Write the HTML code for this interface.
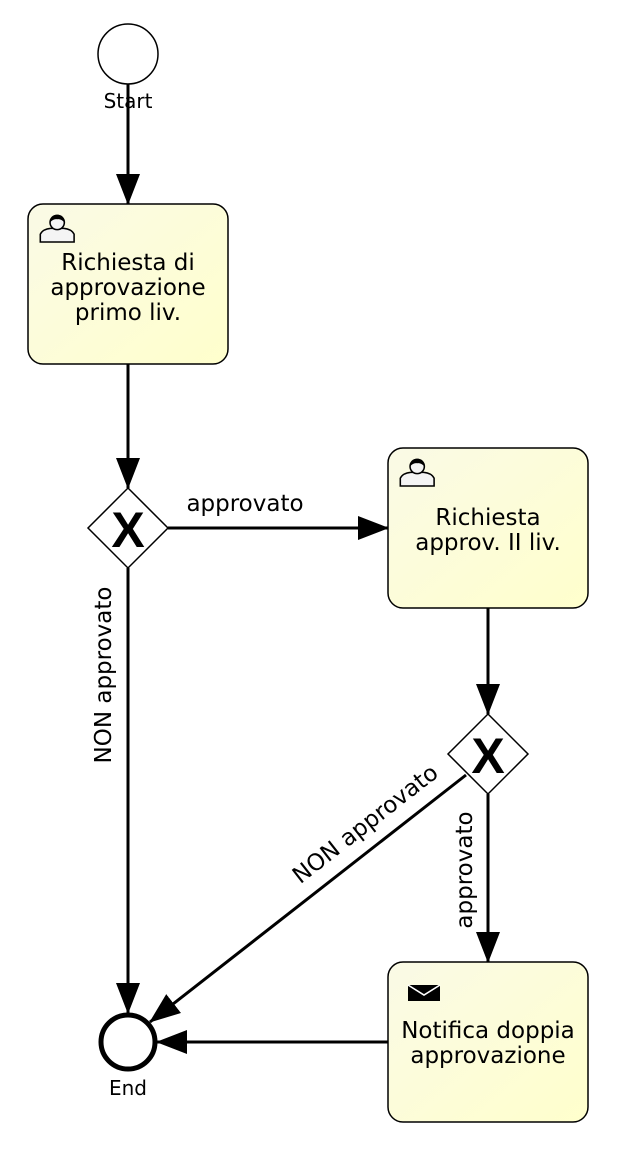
<!DOCTYPE html>
<html><head><meta charset="utf-8"><style>
html,body{margin:0;padding:0;background:#fff;width:640px;height:1170px;overflow:hidden}
text{font-family:"DejaVu Sans","Liberation Sans",sans-serif;fill:#000}
</style></head><body>
<svg width="640" height="1170" viewBox="0 0 640 1170" xmlns="http://www.w3.org/2000/svg">
<defs>
<linearGradient id="g" x1="0" y1="0" x2="1" y2="1">
<stop offset="0" stop-color="#fafae6"/><stop offset="1" stop-color="#ffffcc"/>
</linearGradient>
<marker id="a" markerWidth="32" markerHeight="24" refX="30" refY="12" orient="auto" markerUnits="userSpaceOnUse">
<path d="M0,0 L31,12 L0,24 z" fill="#000"/>
</marker>
<g id="user">
<path d="M1,20 L1,14 Q3,10 9,9.5 L19,9.5 Q25,10 27,14 L27,20 Z" fill="#f4f4f4" stroke="#000" stroke-width="1.2"/>
<circle cx="14" cy="5" r="5.5" fill="#f4f4f4" stroke="#000" stroke-width="1.2"/>
<path d="M8.5,5 Q8.5,-1 14,-1 Q19.5,-1 19.5,5 Q17,2 14,2.5 Q11,2 8.5,5 Z" fill="#000"/>
</g>
</defs>

<g stroke="#000" stroke-width="3" fill="none">
<line x1="128" y1="84" x2="128" y2="204" marker-end="url(#a)"/>
<line x1="128" y1="364" x2="128" y2="488" marker-end="url(#a)"/>
<line x1="168" y1="528" x2="388" y2="528" marker-end="url(#a)"/>
<line x1="488" y1="608" x2="488" y2="714" marker-end="url(#a)"/>
<line x1="488" y1="794" x2="488" y2="962" marker-end="url(#a)"/>
<line x1="128" y1="568" x2="128" y2="1013" marker-end="url(#a)"/>
<line x1="466" y1="775" x2="150" y2="1022" marker-end="url(#a)"/>
<line x1="388" y1="1042" x2="157" y2="1042" marker-end="url(#a)"/>
</g>

<circle cx="128" cy="54" r="30" fill="#fff" stroke="#000" stroke-width="1.5"/>
<text x="128" y="108" style="font-size:20px" text-anchor="middle">Start</text>

<circle cx="128" cy="1042" r="27" fill="#fff" stroke="#000" stroke-width="5"/>
<text x="128" y="1095" style="font-size:20px" text-anchor="middle">End</text>

<rect x="28" y="204" width="200" height="160" rx="15" fill="url(#g)" stroke="#000" stroke-width="1.5"/>
<use href="#user" transform="translate(39,216) scale(1.3)"/>
<text style="font-size:23px" text-anchor="middle"><tspan x="128" y="270">Richiesta di</tspan><tspan x="128" y="295">approvazione</tspan><tspan x="128" y="320">primo liv.</tspan></text>

<rect x="388" y="448" width="200" height="160" rx="15" fill="url(#g)" stroke="#000" stroke-width="1.5"/>
<use href="#user" transform="translate(399,460) scale(1.3)"/>
<text style="font-size:23px" text-anchor="middle"><tspan x="488" y="525">Richiesta</tspan><tspan x="488" y="550">approv. II liv.</tspan></text>

<rect x="388" y="962" width="200" height="160" rx="15" fill="url(#g)" stroke="#000" stroke-width="1.5"/>
<path d="M408,985 L440,985 L440,1001 L408,1001 Z" fill="#000"/>
<path d="M408,985 L424,995 L440,985" fill="none" stroke="#fff" stroke-width="1.6"/>
<text style="font-size:23px" text-anchor="middle"><tspan x="488" y="1038">Notifica doppia</tspan><tspan x="488" y="1063">approvazione</tspan></text>

<path d="M128,488 L168,528 L128,568 L88,528 Z" fill="#fff" stroke="#000" stroke-width="1.5"/>
<text x="128" y="547" style="font-size:50px;font-family:'Liberation Sans',sans-serif" font-weight="bold" text-anchor="middle">X</text>
<path d="M488,714 L528,754 L488,794 L448,754 Z" fill="#fff" stroke="#000" stroke-width="1.5"/>
<text x="488" y="773" style="font-size:50px;font-family:'Liberation Sans',sans-serif" font-weight="bold" text-anchor="middle">X</text>

<text x="245" y="511" style="font-size:23px" text-anchor="middle">approvato</text>
<text transform="translate(111,675) rotate(-90)" style="font-size:23px" text-anchor="middle">NON approvato</text>
<text transform="translate(472,870) rotate(-90)" style="font-size:23px" text-anchor="middle">approvato</text>
<text transform="translate(370,830) rotate(-38)" style="font-size:23px" text-anchor="middle">NON approvato</text>
</svg>
</body></html>
